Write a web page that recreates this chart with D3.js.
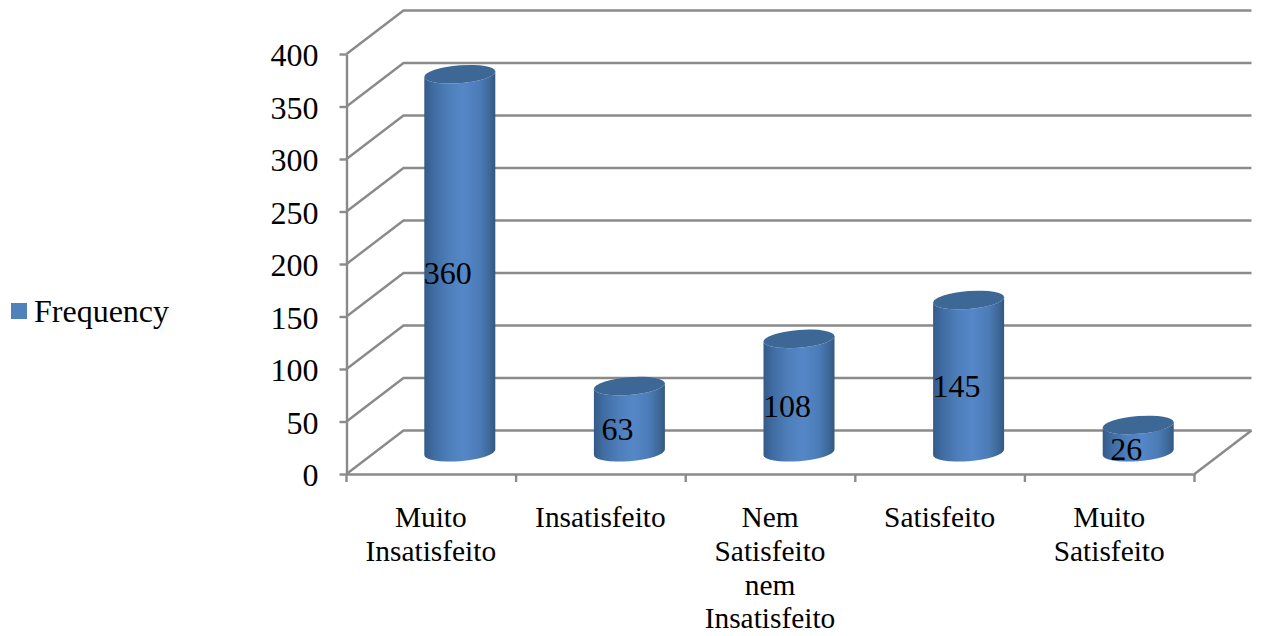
<!DOCTYPE html>
<html>
<head>
<meta charset="utf-8">
<script src="https://cdn.jsdelivr.net/npm/d3@7"></script>
<style>
  html, body { margin: 0; padding: 0; background: #fff; }
  svg { display: block; }
  text { font-family: "Liberation Serif", serif; fill: #000; }
</style>
</head>
<body>
<svg id="chart" width="1263" height="636"></svg>
<script>
// Survey responses by satisfaction level
const categories = [
  ["Muito", "Insatisfeito"],
  ["Insatisfeito"],
  ["Nem", "Satisfeito", "nem", "Insatisfeito"],
  ["Satisfeito"],
  ["Muito", "Satisfeito"]
];
const frequency = [360, 63, 108, 145, 26];
const yTicks = [0, 50, 100, 150, 200, 250, 300, 350, 400];
const seriesName = "Frequency";

const svg = d3.select("#chart");

// Front plane of the 3D box; the back wall is shifted by depth
const plot = { left: 346.5, right: 1194.5, top: 54, bottom: 474 };
const depth = { x: 57, y: -43.5 };
const gridColor = "#8a8a8a";
const lineWidth = 2.4;

const x = d3.scaleBand()
  .domain(d3.range(categories.length))
  .range([plot.left, plot.right]);
const y = d3.scaleLinear().domain([0, 400]).range([plot.bottom, plot.top]);

// Cylinder shape
const radiusX = 35.5, radiusY = 8.9, tilt = -2.7 / 35.5;

const defs = svg.append("defs");
const grad = defs.append("linearGradient").attr("id", "cylinderShade")
  .attr("x1", 0).attr("x2", 1).attr("y1", 0).attr("y2", 0);
[[0, "#345a88"], [0.12, "#3f6ba1"], [0.35, "#4e7fbb"], [0.55, "#5587c8"],
 [0.78, "#4c7cb7"], [0.92, "#3d6898"], [1, "#34587f"]].forEach(([o, c]) => {
  grad.append("stop").attr("offset", o).attr("stop-color", c);
});

// Walls: gridlines along the back, diagonals across the side wall
const walls = svg.append("g")
  .attr("fill", "none").attr("stroke", gridColor).attr("stroke-width", lineWidth);
walls.selectAll("polyline.grid").data(yTicks).join("polyline")
  .attr("class", "grid")
  .attr("points", d => [
    [plot.left, y(d)],
    [plot.left + depth.x, y(d) + depth.y],
    [plot.right + depth.x, y(d) + depth.y]
  ].join(" "));
// Floor edge on the right-hand side
walls.append("line")
  .attr("x1", plot.right).attr("y1", plot.bottom)
  .attr("x2", plot.right + depth.x).attr("y2", plot.bottom + depth.y);

// Axes
const yAxis = d3.axisLeft(y).tickValues(yTicks).tickSize(7).tickPadding(21).tickSizeOuter(0);
const gy = svg.append("g").attr("transform", `translate(${plot.left},0)`).call(yAxis);
gy.selectAll("text").attr("font-size", 32).attr("dy", "0.37em");

const xAxis = d3.axisBottom(x).tickSize(0).tickFormat("");
const gx = svg.append("g").attr("transform", `translate(0,${plot.bottom})`).call(xAxis);
gx.selectAll(".tick").remove();
gx.selectAll("line.boundary").data(d3.range(categories.length + 1)).join("line")
  .attr("class", "boundary")
  .attr("x1", i => plot.left + i * x.step())
  .attr("x2", i => plot.left + i * x.step())
  .attr("y1", 0).attr("y2", 8)
  .attr("stroke", gridColor).attr("stroke-width", lineWidth);

svg.selectAll(".domain").attr("stroke", gridColor).attr("stroke-width", lineWidth);
gy.selectAll(".tick line").attr("stroke", gridColor).attr("stroke-width", lineWidth);

// Cylinders stand midway through the depth of the floor
const baseX = i => x(i) + x.bandwidth() / 2 + depth.x / 2;
const baseY = y(0) + depth.y / 2;
const pxPerUnit = y(0) - y(1);

const bars = svg.append("g").selectAll("g").data(frequency).join("g")
  .attr("transform", (d, i) =>
    `matrix(1,${tilt},0,1,${baseX(i)},${baseY})`);

bars.append("path")
  .attr("fill", "url(#cylinderShade)")
  .attr("d", d => {
    const h = d * pxPerUnit;
    return `M${-radiusX},${-h}L${-radiusX},0` +
      `A${radiusX},${radiusY} 0 0 0 ${radiusX},0L${radiusX},${-h}` +
      `A${radiusX},${radiusY} 0 0 1 ${-radiusX},${-h}Z`;
  });
bars.append("ellipse")
  .attr("cx", 0).attr("cy", d => -d * pxPerUnit)
  .attr("rx", radiusX).attr("ry", radiusY)
  .attr("fill", "#3d6795");

// Value labels
svg.append("g").selectAll("text").data(frequency).join("text")
  .attr("x", (d, i) => baseX(i) - 12)
  .attr("y", d => baseY - d * pxPerUnit / 2 + 10)
  .attr("dy", "0.35em")
  .attr("text-anchor", "middle")
  .attr("font-size", 32)
  .text(d => d);

// Category labels
const catLabels = svg.append("g").selectAll("text").data(categories).join("text")
  .attr("text-anchor", "middle")
  .attr("font-size", 29.4)
  .attr("transform", (d, i) => `translate(${x(i) + x.bandwidth() / 2 - 0.5},0)`);
catLabels.selectAll("tspan").data(d => d).join("tspan")
  .attr("x", 0)
  .attr("y", (d, i) => 527 + i * 33.8)
  .text(d => d);

// Legend
svg.append("rect")
  .attr("x", 11).attr("y", 303).attr("width", 16).attr("height", 16)
  .attr("fill", "#4f81bd");
svg.append("text")
  .attr("x", 34).attr("y", 322)
  .attr("font-size", 32)
  .text(seriesName);
</script>
</body>
</html>
